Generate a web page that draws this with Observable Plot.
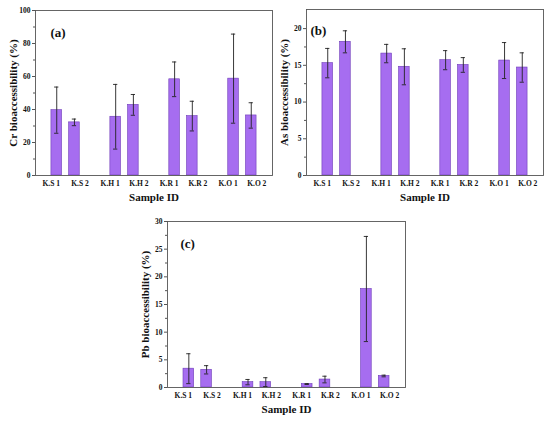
<!DOCTYPE html>
<html>
<head>
<meta charset="utf-8">
<script src="https://cdn.jsdelivr.net/npm/d3@7"></script>
<script src="https://cdn.jsdelivr.net/npm/@observablehq/plot@0.6"></script>
<style>
  html, body { margin: 0; padding: 0; background: #fff; }
  #fig { position: relative; width: 550px; height: 423px; overflow: hidden; }
  #fig svg { position: absolute; overflow: visible; }
</style>
</head>
<body>
<div id="fig"></div>
<script>
const samples = ["K.S 1", "K.S 2", "K.H 1", "K.H 2", "K.R 1", "K.R 2", "K.O 1", "K.O 2"];

const cr    = [39.6, 32.2, 35.6, 42.8, 58.3, 36.0, 58.7, 36.4];
const crErr = [14.0, 2.0, 19.6, 6.3, 10.5, 9.0, 27.0, 7.7];

const as    = [15.3, 18.2, 16.6, 14.8, 15.7, 15.05, 15.65, 14.7];
const asErr = [2.0, 1.5, 1.25, 2.45, 1.3, 1.0, 2.45, 2.0];

const pb    = [3.4, 3.2, 0.97, 0.97, 0.62, 1.44, 17.8, 2.08];
const pbErr = [2.7, 0.75, 0.48, 0.8, 0.08, 0.6, 9.5, 0.15];

const crTicks = [0, 20, 40, 60, 80, 100];
const asTicks = [0, 5, 10, 15, 20];
const pbTicks = [0, 5, 10, 15, 20, 25, 30];

// layout constants
const groupStep = 3.33;
const halfBar = 0.3;
const halfCap = 0.12;
const pos = samples.map((s, i) => Math.floor(i / 2) * groupStep + (i % 2));
const labelAt = new Map(pos.map((p, i) => [p, samples[i]]));
const firstPos = pos.filter((p, i) => i % 2 === 0);
const secondPos = pos.filter((p, i) => i % 2 === 1);

function panel({values, errs, yDomain, yTicks, yLabel, tag, tagDx, tagDy, left, top, width, height, marginTop, marginBottom}) {
  const rows = samples.map((s, i) => ({s, x: pos[i], v: values[i], e: errs[i]}));
  const step = yTicks[1] - yTicks[0];
  const minor = yTicks.slice(0, -1).map(t => t + step / 2).filter(t => t <= yDomain[1]);
  const font = "'Liberation Serif', 'Times New Roman', serif";
  const svg = Plot.plot({
    width, height,
    marginLeft: 35, marginRight: 8, marginTop, marginBottom,
    style: {fontFamily: font, fontWeight: "bold", fontSize: "7.5px", color: "#111", background: "transparent"},
    x: {domain: [-1.2, pos[pos.length - 1] + 1.2]},
    y: {domain: yDomain},
    marks: [
      Plot.rectY(rows, {x1: d => d.x - halfBar, x2: d => d.x + halfBar, y1: 0, y2: "v", fill: "#a66df0", stroke: "#6e3cb8", strokeWidth: 0.6}),
      Plot.ruleX(rows, {x: "x", y1: d => d.v - d.e, y2: d => d.v + d.e, stroke: "#222", strokeWidth: 0.9}),
      Plot.ruleY(rows, {y: d => d.v + d.e, x1: d => d.x - halfCap, x2: d => d.x + halfCap, stroke: "#222", strokeWidth: 0.9}),
      Plot.ruleY(rows, {y: d => d.v - d.e, x1: d => d.x - halfCap, x2: d => d.x + halfCap, stroke: "#222", strokeWidth: 0.9}),
      Plot.frame({stroke: "#555", strokeWidth: 0.9}),
      Plot.axisY({ticks: yTicks, tickSize: 3, tickPadding: 2, label: null, stroke: "#555"}),
      Plot.axisY({ticks: minor, tickSize: 2, tickFormat: () => "", label: null, stroke: "#555"}),
      Plot.axisX({ticks: firstPos, tickSize: 0, tickPadding: 5, dx: -5.5, tickFormat: d => labelAt.get(d), label: null}),
      Plot.axisX({ticks: secondPos, tickSize: 0, tickPadding: 5, dx: 5.5, tickFormat: d => labelAt.get(d), label: null}),
      Plot.text([yLabel], {frameAnchor: "left", textAnchor: "middle", rotate: -90, dx: -22, fontSize: 11, fontWeight: "bold"}),
      Plot.text(["Sample ID"], {frameAnchor: "bottom", textAnchor: "middle", dy: 25, fontSize: 11, fontWeight: "bold"}),
      Plot.text([tag], {frameAnchor: "top-left", textAnchor: "start", dx: tagDx, dy: tagDy, fontSize: 13, fontWeight: "bold"})
    ]
  });
  svg.style.left = left + "px";
  svg.style.top = top + "px";
  return svg;
}

const fig = document.getElementById("fig");
fig.appendChild(panel({values: cr, errs: crErr, yDomain: [0, 100], yTicks: crTicks, yLabel: "Cr bioaccessibility (%)", tag: "(a)", tagDx: 15, tagDy: 17,
  left: 0, top: 0, width: 280, height: 210, marginTop: 10, marginBottom: 35}));
fig.appendChild(panel({values: as, errs: asErr, yDomain: [0, 22.6], yTicks: asTicks, yLabel: "As bioaccessibility (%)", tag: "(b)", tagDx: 4, tagDy: 16,
  left: 271, top: 0, width: 280, height: 210, marginTop: 9, marginBottom: 35}));
fig.appendChild(panel({values: pb, errs: pbErr, yDomain: [0, 30], yTicks: pbTicks, yLabel: "Pb bioaccessibility (%)", tag: "(c)", tagDx: 13, tagDy: 17,
  left: 132, top: 210, width: 281, height: 213, marginTop: 11, marginBottom: 36}));
</script>
</body>
</html>
